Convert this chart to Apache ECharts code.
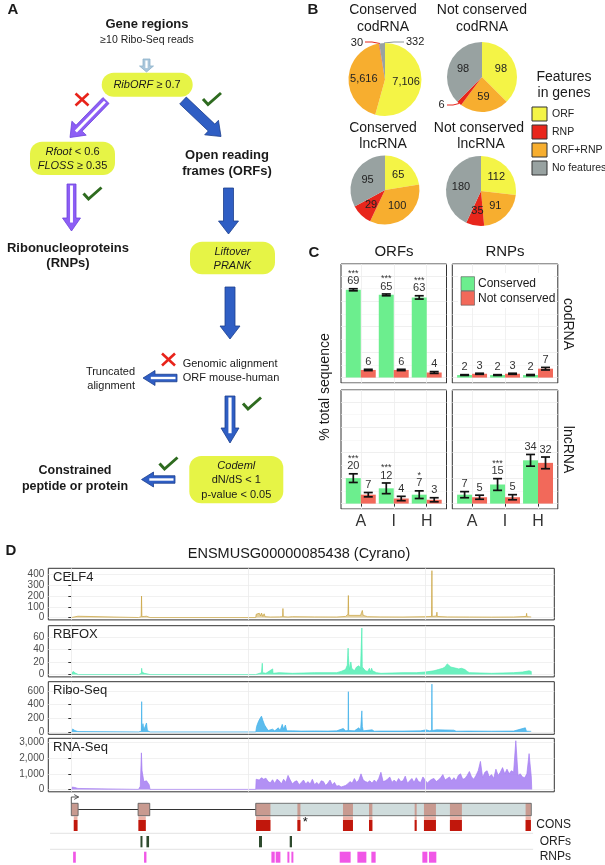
<!DOCTYPE html>
<html><head><meta charset="utf-8">
<script src="https://cdn.jsdelivr.net/npm/echarts@6/dist/echarts.min.js"></script>
<style>html,body{margin:0;padding:0;background:#fff}#c{width:605px;height:865px}</style>
</head><body><div id="c"></div>
<script>
// ================= DATA =================
// Panel B pies (clockwise from 12 o'clock)
const pieNames = ['ORF', 'ORF+RNP', 'RNP', 'No features'];
const legendNames = ['ORF', 'RNP', 'ORF+RNP', 'No features'];
const pieConsCod = [7106, 5616, 30, 332];
const pieNotCod = [98, 59, 6, 98];
const pieConsLnc = [65, 100, 29, 95];
const pieNotLnc = [112, 91, 35, 180];

// Panel C bars (% total sequence), categories A, I, H
const cCats = ['A', 'I', 'H'];
const orfCodCons = [69, 65, 63];   const orfCodConsErr = [0.8, 0.7, 1.3];
const orfCodNot = [6, 6, 4];       const orfCodNotErr = [0.5, 0.5, 0.7];
const rnpCodCons = [2, 2, 2];      const rnpCodConsErr = [0.3, 0.3, 0.4];
const rnpCodNot = [3, 3, 7];       const rnpCodNotErr = [0.4, 0.4, 1.0];
const orfLncCons = [20, 12, 7];    const orfLncConsErr = [3.4, 4.2, 3.0];
const orfLncNot = [7, 4, 3];       const orfLncNotErr = [1.7, 1.7, 1.6];
const rnpLncCons = [7, 15, 34];    const rnpLncConsErr = [2.4, 4.6, 4.6];
const rnpLncNot = [5, 5, 32];      const rnpLncNotErr = [1.6, 2.0, 4.6];
const orfCodStars = ['***', '***', '***'];
const orfLncStars = ['***', '***', '*'];
const rnpCodStars = ['', '', ''];
const rnpLncStars = ['', '***', ''];

// Panel D tracks: [position (bp), coverage]
const celf4 = [[0,0],[20,15],[150,12],[160,0],[1520,0],[1580,8],[1588,200],[1596,8],[1650,10],[1700,12],[1720,6],[1780,0],
  [4170,0],[4180,30],[4200,45],[4220,20],[4250,40],[4280,15],[4300,42],[4330,10],[4360,35],[4380,8],[4500,5],[4700,6],[4778,8],[4785,84],[4792,8],
  [4900,5],[5000,8],[5500,6],[6000,5],[6200,10],[6255,30],[6264,205],[6272,20],[6300,10],[6540,20],[6560,45],[6580,66],[6590,40],[6600,20],
  [6700,8],[7000,6],[7500,5],[8000,8],[8145,10],[8153,436],[8160,10],[8259,15],[8266,50],[8273,10],[8500,6],[9000,5],[9500,4],[10000,5],
  [10285,10],[10294,39],[10303,8],[10398,5],[10400,0]];
const rbfox = [[0,0],[40,5],[60,4],[100,2],[160,0],[1520,0],[1585,2],[1591,10],[1600,4],[1650,2],[1780,0],
  [4170,0],[4200,2],[4300,3],[4318,18],[4326,3],[4400,2],[4553,9],[4560,2],[4700,3],[5000,2],[5500,3],[6000,3],[6100,5],[6200,8],[6240,15],
  [6258,42],[6264,30],[6275,18],[6290,8],[6320,20],[6340,10],[6400,6],[6450,12],[6500,14],[6540,10],[6569,74],[6578,12],[6600,10],[6650,6],
  [6700,5],[6740,10],[6760,4],[6790,10],[6810,6],[6900,3],[7000,2],[7500,3],[7800,3],[8000,4],[8200,6],[8300,8],[8400,10],[8450,12],[8500,17],
  [8540,15],[8580,12],[8620,14],[8700,10],[8760,9],[8820,10],[8900,8],[8950,5],[9000,3],[9500,2],[10000,3],[10200,4],[10350,6],[10398,5],[10400,0]];
const riboSeq = [[0,0],[30,43],[80,20],[150,5],[160,0],[1520,0],[1584,10],[1591,441],[1598,20],[1620,120],[1640,30],[1700,130],[1720,20],[1780,0],
  [4170,0],[4190,80],[4230,150],[4270,200],[4300,230],[4330,170],[4370,100],[4410,60],[4450,20],[4550,40],[4600,15],[4680,60],[4720,20],
  [4770,110],[4800,40],[4840,100],[4870,15],[5000,15],[5200,12],[5500,14],[5800,12],[6000,15],[6150,50],[6200,15],[6257,20],[6264,586],[6271,20],
  [6400,15],[6500,60],[6540,20],[6569,307],[6580,80],[6600,15],[6800,30],[6850,10],[7000,12],[7500,12],[7900,15],[8020,30],[8100,15],[8146,20],
  [8153,697],[8160,20],[8260,30],[8300,10],[8650,25],[8700,10],[9000,12],[9500,10],[10000,12],[10265,60],[10290,10],[10398,8],[10400,0]];
const rnaSeq = [[0,0],[20,150],[80,120],[150,60],[160,0],[1520,0],[1560,200],[1585,2350],[1600,1200],[1640,500],[1680,400],[1700,550],[1740,600],[1760,300],[1780,0],
  [4170,0],[4180,650],
  [4200,700],[4250,600],[4300,750],[4350,650],[4400,720],[4450,500],
  [4500,420],[4550,620],[4600,380],[4650,650],[4700,550],[4750,350],
  [4800,650],[4850,450],[4900,900],[4950,600],[5000,350],[5050,500],
  [5100,550],[5150,300],[5200,450],[5250,600],[5300,350],[5350,500],
  [5400,350],[5450,650],[5500,300],[5550,450],[5600,300],[5650,550],
  [5700,500],[5750,250],[5800,400],[5850,600],[5900,300],[5950,450],
  [6000,200],[6050,250],[6100,150],[6150,200],[6200,250],[6250,350],
  [6300,500],[6350,400],[6400,700],[6450,450],[6500,600],[6550,1000],
  [6600,600],[6650,500],[6700,450],[6750,550],[6800,400],[6850,600],
  [6900,450],[6950,700],[7000,1100],[7050,500],[7100,550],[7150,650],
  [7200,800],[7250,450],[7300,600],[7350,450],[7400,700],[7450,500],
  [7500,550],[7550,850],[7600,400],[7650,550],[7700,700],[7750,450],
  [7800,750],[7850,500],[7900,450],[7950,800],[8000,600],[8050,400],
  [8100,550],[8150,650],[8200,700],[8250,500],[8300,600],[8350,750],
  [8400,950],[8450,600],[8500,700],[8550,800],[8600,550],[8650,750],
  [8700,550],[8750,900],[8800,1000],[8850,650],[8900,700],[8950,900],
  [9000,1150],[9050,800],[9100,650],[9150,900],[9200,1200],[9250,1800],
  [9300,750],[9350,1100],[9400,1200],[9450,800],[9500,950],[9550,700],
  [9600,1300],[9650,900],[9700,1100],[9750,1400],[9800,1000],[9850,1300],
  [9900,1000],[9950,1200],[10000,1100],[10050,3130],[10100,900],[10150,1000],
  [10200,800],[10250,750],[10300,1000],[10350,2300],[10400,800],[10410,0]];

// Gene model (bp)
const exons = [[0, 154], [1510, 1774], [4170, 10400]];
const introns = [[154, 1510], [1774, 4170]];
const consBox = [[0,154],[1510,1774],[4170,4502],[5112,5180],[6142,6368],[6730,6807],[7763,7808],[7973,8244],[8560,8831],[10271,10391]];
const consMarks = [[56,140],[1518,1684],[4177,4502],[5112,5180],[6142,6368],[6730,6807],[7763,7808],[7973,8244],[8560,8831],[10271,10391]];
const orfMarks = [[1564,1609],[1699,1758],[4244,4312],[4938,4990]];
const rnpMarks = [[41,102],[1645,1699],[4524,4599],[4621,4728],[4886,4931],[4976,5021],[6068,6316],[6468,6671],[6784,6881],[7937,8050],[8086,8253]];
const trackTicks = [[0,100,200,300,400],[0,20,40,60],[0,200,400,600],[0,1000,2000,3000]];
const trackNames = ['CELF4', 'RBFOX', 'Ribo-Seq', 'RNA-Seq'];

// ================= STYLE / LAYOUT =================
const FONT = '"Liberation Sans", Arial, Helvetica, sans-serif';
const pieCol = {'ORF':'#F4F446', 'RNP':'#E8261C', 'ORF+RNP':'#F7AE2F', 'No features':'#98A2A1'};
const GREEN = '#6CEE8E', SALMON = '#F2695A';
const YEL = '#E6F446';

const G = [];
function txt(x, y, s, o) {
  o = o || {};
  const st = {x:0, y:0, text:s, fill:o.fill||'#1a1a1a', fontSize:o.size||11, fontFamily:FONT,
    fontWeight:o.weight||'normal', fontStyle:o.style||'normal', align:o.align||'center', verticalAlign:o.va||'middle'};
  if (o.rich) st.rich = o.rich;
  G.push({type:'text', silent:true, x:x, y:y, rotation:o.rot||0, z:100, style:st});
}
function box(x, y, w, h) { G.push({type:'rect', silent:true, shape:{x:x, y:y, width:w, height:h, r:12}, style:{fill:YEL}}); }
function arrow(x0, y0, x1, y1, sw, hw, hl, fill, stroke, hollow) {
  const dx = x1-x0, dy = y1-y0, L = Math.hypot(dx, dy), ux = dx/L, uy = dy/L, px = -uy, py = ux;
  const bx = x1-ux*hl, by = y1-uy*hl;
  const pts = [[x0+px*sw/2, y0+py*sw/2],[bx+px*sw/2, by+py*sw/2],[bx+px*hw/2, by+py*hw/2],[x1, y1],
    [bx-px*hw/2, by-py*hw/2],[bx-px*sw/2, by-py*sw/2],[x0-px*sw/2, y0-py*sw/2]];
  G.push({type:'polygon', silent:true, shape:{points:pts}, style:{fill:fill, stroke:stroke, lineWidth:0.8}});
  if (hollow) {
    G.push({type:'line', silent:true, shape:{x1:x0+ux*1.5, y1:y0+uy*1.5, x2:bx+ux*hl*0.35, y2:by+uy*hl*0.35},
      style:{stroke:'#fff', lineWidth:Math.max(1.6, sw*0.32)}});
  }
}
function check(x, y) {
  G.push({type:'polyline', silent:true, shape:{points:[[x-9, y], [x-4, y+5.5], [x+9, y-6]]},
    style:{stroke:'#2E6B1F', lineWidth:3, fill:null, lineJoin:'miter'}});
}
function cross(x, y) {
  G.push({type:'line', silent:true, shape:{x1:x-6.5, y1:y-6, x2:x+6.5, y2:y+6}, style:{stroke:'#E8231A', lineWidth:2.6}});
  G.push({type:'line', silent:true, shape:{x1:x+6.5, y1:y-6, x2:x-6.5, y2:y+6}, style:{stroke:'#E8231A', lineWidth:2.6}});
}
const it = {i:{fontStyle:'italic', fontSize:11, fontFamily:FONT, fill:'#1a1a1a'}};

// ---- Panel letters ----
txt(13, 10, 'A', {weight:'bold', size:15});
txt(313, 10, 'B', {weight:'bold', size:15});
txt(314, 253, 'C', {weight:'bold', size:15});
txt(11, 551, 'D', {weight:'bold', size:15});

// ---- Panel A flowchart ----
txt(147, 24, 'Gene regions', {weight:'bold', size:13});
txt(147, 40, '\u226510 Ribo-Seq reads', {size:10.5});
arrow(146.5, 59, 146.5, 72, 7, 14, 6, '#A9C6DB', '#8DB1CA', true);
box(101.7, 72.7, 91, 24);
txt(147, 85, '{i|RibORF} \u2265 0.7', {size:11, rich:it});
cross(82, 99.5);
check(212, 99);
arrow(106, 100.5, 70, 137.5, 8.5, 20, 13, '#8D5EF5', '#6C42DA', true);
arrow(183, 100.5, 221, 136.5, 9.5, 20, 13, '#2F5EC4', '#1C3F8E', false);
box(30, 141.7, 85, 33.3);
txt(72.5, 152.2, '{i|Rfoot} < 0.6', {size:11, rich:it});
txt(72.5, 166.2, '{i|FLOSS} \u2265 0.35', {size:11, rich:it});
txt(227, 155, 'Open reading', {weight:'bold', size:13});
txt(227, 171.5, 'frames (ORFs)', {weight:'bold', size:13});
arrow(71.5, 184, 71.5, 231, 9, 18, 13, '#8D5EF5', '#6C42DA', true);
check(92.5, 193.5);
txt(68, 248, 'Ribonucleoproteins', {weight:'bold', size:13});
txt(68, 263.5, '(RNPs)', {weight:'bold', size:13});
arrow(228.5, 188, 228.5, 234, 10, 20, 13, '#2F5EC4', '#1C3F8E', false);
box(190, 241.7, 85, 32.5);
txt(232.5, 251.5, '{i|Liftover}', {size:11, rich:it});
txt(232.5, 265.5, '{i|PRANK}', {size:11, rich:it});
arrow(230, 287, 230, 339, 10, 20, 13, '#2F5EC4', '#1C3F8E', false);
cross(168.5, 359.5);
txt(182.7, 364, 'Genomic alignment', {size:11, align:'left'});
txt(182.7, 378.3, 'ORF mouse-human', {size:11, align:'left'});
arrow(177, 378, 143, 378, 7.5, 15, 12, '#2F5EC4', '#1C3F8E', true);
txt(135, 371.7, 'Truncated', {size:11, align:'right'});
txt(135, 386, 'alignment', {size:11, align:'right'});
arrow(230, 396, 230, 443, 10, 18, 15, '#2F5EC4', '#1C3F8E', true);
check(252, 403.5);
box(189.3, 456, 94, 47.3);
txt(236.3, 465.5, '{i|Codeml}', {size:11, rich:it});
txt(236.3, 480, 'dN/dS < 1', {size:11});
txt(236.3, 494.5, 'p-value < 0.05', {size:11});
arrow(175, 479.5, 141.5, 479.5, 7.5, 15, 12, '#2F5EC4', '#1C3F8E', true);
check(168.5, 463.5);
txt(75, 471, 'Constrained', {weight:'bold', size:12.5});
txt(75, 486.7, 'peptide or protein', {weight:'bold', size:12.5});

// ---- Panel B titles ----
txt(383, 10.5, 'Conserved', {size:14}); txt(383, 27, 'codRNA', {size:14});
txt(482, 10.5, 'Not conserved', {size:14}); txt(482, 27, 'codRNA', {size:14});
txt(383, 128, 'Conserved', {size:14}); txt(383, 144.5, 'lncRNA', {size:14});
txt(479, 128, 'Not conserved', {size:14}); txt(481, 144.5, 'lncRNA', {size:14});
txt(564, 77, 'Features', {size:14}); txt(564, 93, 'in genes', {size:14});

// ---- Panel C labels ----
txt(394, 252, 'ORFs', {size:15}); txt(505, 252, 'RNPs', {size:15});
txt(325, 387, '% total sequence', {size:14, rot:Math.PI/2});
txt(568, 324, 'codRNA', {size:14, rot:-Math.PI/2});
txt(568, 449.5, 'lncRNA', {size:14, rot:-Math.PI/2});
G.push({type:'rect', silent:true, z:90, shape:{x:458, y:273, width:96, height:35}, style:{fill:'#fff'}});
G.push({type:'rect', silent:true, z:95, shape:{x:461, y:276.7, width:13.5, height:14}, style:{fill:GREEN, stroke:'#555', lineWidth:0.6}});
G.push({type:'rect', silent:true, z:95, shape:{x:461, y:291.2, width:13.5, height:14}, style:{fill:SALMON, stroke:'#555', lineWidth:0.6}});
txt(478, 284, 'Conserved', {size:12, align:'left'});
txt(478, 298.5, 'Not conserved', {size:12, align:'left'});

// ---- Panel D labels ----
txt(299, 554, 'ENSMUSG00000085438 (Cyrano)', {size:14.5});
const trackTops = [568.3, 625.7, 681.7, 738.3];
const trackH = [51.6, 51.2, 52.6, 53.5];
const trackLim = [[-22, 458], [-3.7, 77.7], [-35, 732], [-156, 3286]];
const trackCol = ['#C9A23C', '#52EDB4', '#3FB0EA', '#A57CF2'];
trackNames.forEach((n, i) => txt(53, trackTops[i] + 9, n, {size:13, align:'left', fill:'#222'}));
txt(571, 825, 'CONS', {size:12, align:'right', fill:'#222'});
txt(571, 841.5, 'ORFs', {size:12, align:'right', fill:'#222'});
txt(571, 857, 'RNPs', {size:12, align:'right', fill:'#222'});

// ================= ECHARTS OPTION =================
const grids = [], xAxes = [], yAxes = [], series = [];
// Panel C facets
const facetPos = [[341, 264], [452.3, 264], [341, 390], [452.3, 390]];
facetPos.forEach((p, i) => {
  grids.push({left:p[0], top:p[1], width:105.5, height:119, show:true, borderColor:'#333', borderWidth:1, backgroundColor:'#fff'});
  const bottom = i >= 2;
  xAxes.push({gridIndex:i, type:'value', min:0.4, max:3.6, splitNumber:5,
    axisLine:{show:false},
    axisTick:{show:bottom, length:3, lineStyle:{color:'#333'}, customValues:[1,2,3]},
    axisLabel:{show:bottom, fontSize:16, color:'#333', fontFamily:FONT, margin:5, customValues:[1,2,3], formatter:v => cCats[Math.round(v)-1] || ''},
    splitLine:{show:true, lineStyle:{color:'#EEEEEE', width:0.8}}});
  yAxes.push({gridIndex:i, type:'value', min:-4.25, max:89.25, splitNumber:5,
    axisLine:{show:false}, axisTick:{show:false}, axisLabel:{show:false},
    splitLine:{show:true, lineStyle:{color:'#EBEBEB', width:0.8}},
    minorTick:{show:false, splitNumber:2}, minorSplitLine:{show:true, lineStyle:{color:'#F3F3F3', width:0.6}}});
});
function barSeries(gi, vals, errs, stars, side, color) {
  return {type:'custom', xAxisIndex:gi, yAxisIndex:gi, clip:false, silent:true, z:5,
    data: vals.map((v, k) => [k+1, v, errs[k]]),
    renderItem: function(params, api) {
      const c = api.value(0), v = api.value(1), e = api.value(2);
      const hw = 0.454;
      const xa = side < 0 ? c - hw : c, xb = side < 0 ? c : c + hw;
      const p0 = api.coord([xa, 0]), p1 = api.coord([xb, v]);
      const xm = (p0[0] + p1[0]) / 2;
      const top = api.coord([c, v + e])[1], bot = api.coord([c, v - e])[1];
      const ch = [
        {type:'rect', shape:{x:p0[0], y:p1[1], width:p1[0]-p0[0], height:p0[1]-p1[1]}, style:{fill:color}},
        {type:'line', shape:{x1:xm, y1:top, x2:xm, y2:bot}, style:{stroke:'#111', lineWidth:1.7}},
        {type:'line', shape:{x1:xm-4.5, y1:top, x2:xm+4.5, y2:top}, style:{stroke:'#111', lineWidth:1.7}},
        {type:'line', shape:{x1:xm-4.5, y1:bot, x2:xm+4.5, y2:bot}, style:{stroke:'#111', lineWidth:1.7}},
        {type:'text', style:{x:xm, y:top-7.5, text:String(v), fill:'#333', fontSize:11, fontFamily:FONT, align:'center', verticalAlign:'middle'}}
      ];
      const s = stars[params.dataIndex];
      if (s) ch.push({type:'text', style:{x:xm, y:top-15.5, text:s, fill:'#333', fontSize:9, fontFamily:FONT, align:'center', verticalAlign:'middle'}});
      return {type:'group', children:ch};
    }};
}
series.push(barSeries(0, orfCodCons, orfCodConsErr, orfCodStars, -1, GREEN));
series.push(barSeries(0, orfCodNot, orfCodNotErr, ['','',''], 1, SALMON));
series.push(barSeries(1, rnpCodCons, rnpCodConsErr, rnpCodStars, -1, GREEN));
series.push(barSeries(1, rnpCodNot, rnpCodNotErr, ['','',''], 1, SALMON));
series.push(barSeries(2, orfLncCons, orfLncConsErr, orfLncStars, -1, GREEN));
series.push(barSeries(2, orfLncNot, orfLncNotErr, ['','',''], 1, SALMON));
series.push(barSeries(3, rnpLncCons, rnpLncConsErr, rnpLncStars, -1, GREEN));
series.push(barSeries(3, rnpLncNot, rnpLncNotErr, ['','',''], 1, SALMON));

// Panel D tracks
const trackData = [celf4, rbfox, riboSeq, rnaSeq];
const splitN = [5, 5, 4, 3];
trackData.forEach((d, i) => {
  const gi = 4 + i;
  grids.push({left:48.3, top:trackTops[i], width:506, height:trackH[i], show:true, borderColor:'#333', borderWidth:1, backgroundColor:'#fff'});
  xAxes.push({gridIndex:gi, type:'value', min:-520, max:10920, show:false});
  yAxes.push({gridIndex:gi, type:'value', min:trackLim[i][0], max:trackLim[i][1], splitNumber:splitN[i],
    axisLine:{show:false},
    axisTick:{show:true, length:3, lineStyle:{color:'#333'}, customValues:trackTicks[i]},
    axisLabel:{fontSize:10, color:'#4D4D4D', fontFamily:FONT, margin:4, customValues:trackTicks[i],
      formatter:v => Number(v).toLocaleString('en-US')},
    splitLine:{show:true, lineStyle:{color:'#EEEEEE', width:0.8}}});
  series.push({type:'line', xAxisIndex:gi, yAxisIndex:gi, data:d, showSymbol:false, symbol:'none', silent:true, sampling:null,
    lineStyle:{color:trackCol[i], width:0.7}, itemStyle:{color:trackCol[i]},
    areaStyle:{color:trackCol[i], opacity:i === 0 ? 0.5 : 0.85},
    markLine:{silent:true, symbol:['none','none'], label:{show:false}, animation:false,
      lineStyle:{color:'#EBEBEB', width:0.8, type:'solid'}, data:[{xAxis:0},{xAxis:4000},{xAxis:8000}]}});
});

// Gene model grid (y = pixel offset from 792, inverted)
grids.push({left:48.3, top:792, width:506, height:73, show:false});
xAxes.push({gridIndex:8, type:'value', min:-520, max:10920, show:false});
yAxes.push({gridIndex:8, type:'value', min:0, max:73, inverse:true, show:false});
function rects(data, v0, v1, fill, stroke, z) {
  return {type:'custom', xAxisIndex:8, yAxisIndex:8, clip:false, silent:true, z:z||5,
    data:data.map(d => [d[0], d[1]]),
    renderItem:function(params, api) {
      const a = api.coord([api.value(0), v0]), b = api.coord([api.value(1), v1]);
      return {type:'rect', shape:{x:a[0], y:a[1], width:Math.max(b[0]-a[0], 1.3), height:b[1]-a[1]},
        style:{fill:fill, stroke:stroke || null, lineWidth:stroke ? 0.8 : 0}};
    }};
}
function hlines(data, v, color, w, z) {
  return {type:'custom', xAxisIndex:8, yAxisIndex:8, clip:false, silent:true, z:z||4,
    data:data.map(d => [d[0], d[1]]),
    renderItem:function(params, api) {
      const a = api.coord([api.value(0), v]), b = api.coord([api.value(1), v]);
      return {type:'line', shape:{x1:a[0], y1:a[1], x2:b[0], y2:b[1]}, style:{stroke:color, lineWidth:w}};
    }};
}
series.push(hlines(introns, 17.5, '#333', 1, 4));
series.push(rects(exons, 11.3, 23.7, '#CFDCDC', null, 5));
series.push(rects(consBox, 11.3, 23.7, '#C89A90', null, 6));
series.push(rects(exons, 11.3, 23.7, 'none', '#555', 7));
series.push(rects(consMarks, 24.3, 39, '#EDB1A6', null, 5));
series.push(rects(consMarks, 28, 39, '#C1170C', null, 6));
series.push(hlines([[-480, 10440]], 41.3, '#DADADA', 0.8, 3));
series.push(hlines([[-480, 10440]], 57.3, '#DADADA', 0.8, 3));
series.push(rects(orfMarks, 44, 55.3, '#2D4A2D', null, 5));
series.push(rects(rnpMarks, 59.7, 70.7, '#F057E6', null, 5));
series.push({type:'custom', xAxisIndex:8, yAxisIndex:8, clip:false, silent:true, z:8, data:[[0, 165]],
  renderItem:function(params, api) {
    const s = api.value(0), e = api.value(1);
    const p = (x, v) => api.coord([x, v]);
    const a = p(s, 11.3), b = p(s, 5), c = p(e, 5), h1 = p(e - 100, 2.6), h2 = p(e - 100, 7.4);
    const star = p(5235, 30.5);
    return {type:'group', children:[
      {type:'polyline', shape:{points:[a, b, c]}, style:{stroke:'#444', lineWidth:0.9, fill:null}},
      {type:'polyline', shape:{points:[h1, c, h2]}, style:{stroke:'#444', lineWidth:0.9, fill:null}},
      {type:'text', style:{x:star[0], y:star[1], text:'*', fontSize:13, fontFamily:FONT, fill:'#111', align:'left', verticalAlign:'middle'}}
    ]};
  }});

// Panel B pies
function pieSeries(vals, center, r, specials) {
  return {type:'pie', center:center, radius:[0, r], startAngle:90, clockwise:true, avoidLabelOverlap:false, silent:true, z:5,
    label:{show:true, position:'inside', fontSize:11, color:'#222', fontFamily:FONT, formatter:p => p.value.toLocaleString('en-US')},
    labelLine:{show:false},
    itemStyle:{borderWidth:0},
    data:vals.map((v, i) => {
      const d = {name:pieNames[i], value:v, itemStyle:{color:pieCol[pieNames[i]]}};
      if (specials && specials[i]) {
        d.label = {position:'outside'};
        d.labelLine = {show:true, length:4, length2:4, lineStyle:{color:specials[i].line, width:1}};
      }
      return d;
    }),
    labelLayout: specials ? function(p) {
      const s = specials[p.dataIndex];
      if (!s) return;
      return {x:s.x, y:s.y, align:s.align, verticalAlign:'middle', labelLinePoints:s.pts};
    } : undefined
  };
}
series.push(pieSeries(pieConsCod, [385, 79.5], 36.5, {
  2:{x:363, y:43, align:'right', line:'#E8261C', pts:[[380, 43.5], [372, 42], [365, 42]]},
  3:{x:406, y:42, align:'left', line:'#8A9696', pts:[[384, 43], [394, 42], [404, 42]]}}));
series.push(pieSeries(pieNotCod, [482, 77], 35, {
  2:{x:444.5, y:104.5, align:'right', line:'#E8261C', pts:[[459, 103.5], [453, 105], [447, 105]]}}));
series.push(pieSeries(pieConsLnc, [385, 190], 34.5));
series.push(pieSeries(pieNotLnc, [481, 191], 35));

const option = {
  backgroundColor:'#fff',
  animation:false,
  textStyle:{fontFamily:FONT},
  grid:grids, xAxis:xAxes, yAxis:yAxes, series:series,
  legend:{data:legendNames, orient:'vertical', left:531.5, top:106.5, itemWidth:15, itemHeight:14, itemGap:3, icon:'rect',
    selectedMode:false, padding:0, textStyle:{fontSize:10.5, color:'#222', fontFamily:FONT},
    itemStyle:{borderColor:'#333', borderWidth:1}},
  graphic:G
};
const chart = echarts.init(document.getElementById('c'), null, {renderer:'canvas', width:605, height:865});
chart.setOption(option);
</script></body></html>
